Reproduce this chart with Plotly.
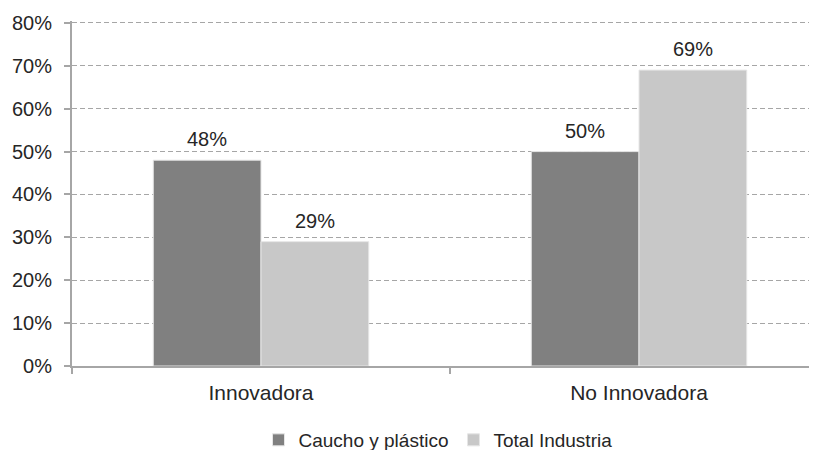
import plotly.graph_objects as go

categories = ["Innovadora", "No Innovadora"]
caucho = [48, 50]
total = [29, 69]
series_names = ["Caucho y plástico", "Total Industria"]
y_ticks = [0, 10, 20, 30, 40, 50, 60, 70, 80]
y_ticklabels = [f"{v}%" for v in y_ticks]

FONT = "Liberation Sans, Arial, sans-serif"
TXT = "#262626"
OFF = 8  # page body margin

L, T = 72 - OFF, 21 - OFF
B = 450 - (366 - OFF)
PLOT_W = 817 - L

fig = go.Figure()
series = [(series_names[0], caucho, "#808080", -54), (series_names[1], total, "#c8c8c8", 54)]
for name, vals, col, shift in series:
    fig.add_trace(go.Bar(
        x=categories, y=vals, name=name,
        marker=dict(color=col, line=dict(color="#e6e6e6", width=1)),
    ))
    for c, v in zip(categories, vals):
        fig.add_annotation(x=c, y=v, text=f"{v}%", showarrow=False,
                           xshift=shift, yshift=8, yanchor="bottom",
                           font=dict(size=20, color=TXT, family=FONT))

fig.update_layout(
    width=817, height=450,
    margin=dict(l=L, r=0, t=T, b=B),
    paper_bgcolor="white", plot_bgcolor="white",
    barmode="group", bargap=0.43, bargroupgap=0,
    font=dict(family=FONT, color=TXT),
    legend=dict(orientation="h", xref="container", x=(438 - OFF) / 817, xanchor="center",
                yref="container", y=(450 - (440 - OFF)) / 450, yanchor="middle",
                font=dict(size=19, color=TXT, family=FONT), itemwidth=30,
                traceorder="normal"),
    showlegend=True,
)
fig.update_xaxes(
    range=[-0.5, -0.5 + PLOT_W / 378], showgrid=False, automargin=False,
    showline=True, linecolor="#a6a6a6", linewidth=2,
    ticks="outside", tickson="boundaries", ticklen=6, tickcolor="#a6a6a6", tickwidth=2,
    tickfont=dict(size=21, color=TXT), ticklabelstandoff=7,
)
fig.update_yaxes(
    range=[0, 80.45], tickvals=y_ticks, ticktext=y_ticklabels, automargin=False,
    showgrid=True, gridcolor="#a6a6a6", griddash="5px,3px", gridwidth=1,
    showline=True, linecolor="#a6a6a6", linewidth=2,
    ticks="outside", ticklen=6, tickcolor="#a6a6a6", tickwidth=2,
    tickfont=dict(size=20, color=TXT), zeroline=False, ticklabelstandoff=8,
)

fig.write_html("out.html")
